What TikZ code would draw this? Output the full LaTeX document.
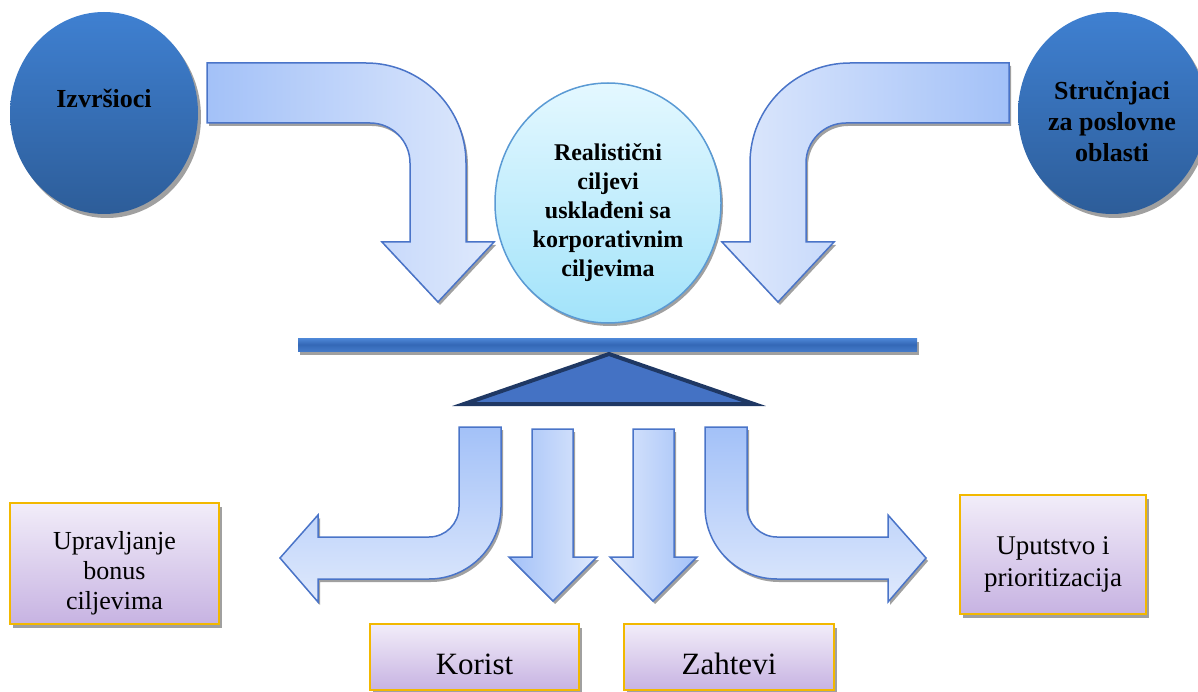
\documentclass[tikz,border=0pt]{standalone}
\usepackage{fontspec}
\setmainfont{Liberation Serif}
\usetikzlibrary{shapes.geometric,shadows}

\definecolor{discDark}{HTML}{2D5D99}
\definecolor{discLight}{HTML}{3F80D1}
\definecolor{goalTop}{HTML}{E4F8FF}
\definecolor{goalBottom}{HTML}{A2E3FA}
\definecolor{goalLine}{HTML}{5A9AD4}
\definecolor{flowDark}{HTML}{A3C1F8}
\definecolor{flowLight}{HTML}{DFE9FC}
\definecolor{flowLine}{HTML}{4A74C8}
\definecolor{beamTop}{HTML}{4E88D8}
\definecolor{beamMid}{HTML}{3468B6}
\definecolor{beamBottom}{HTML}{4379C8}
\definecolor{pivotFill}{HTML}{4472C4}
\definecolor{pivotLine}{HTML}{1F3864}
\definecolor{boxTop}{HTML}{F2EDF9}
\definecolor{boxBottom}{HTML}{C7B3E2}
\definecolor{boxLine}{HTML}{F2B800}
\definecolor{shadowGray}{HTML}{A0A0A0}

\tikzset{
  softshadow/.style={drop shadow={shadow xshift=3pt, shadow yshift=-4pt, fill=shadowGray, opacity=1}},
  thinshadow/.style={drop shadow={shadow xshift=2pt, shadow yshift=-3pt, fill=shadowGray, opacity=1}},
  disc/.style={ellipse, inner sep=0pt, minimum width=188pt, minimum height=202pt,
    top color=discLight, bottom color=discDark, draw=none, softshadow},
  goal/.style={ellipse, inner sep=0pt, minimum width=226pt, minimum height=240pt,
    top color=goalTop, bottom color=goalBottom, draw=goalLine, line width=1.5pt, thinshadow},
  flow/.style={draw=flowLine, line width=1.5pt, line join=miter, thinshadow},
  outcome/.style={rectangle, inner sep=0pt, top color=boxTop, bottom color=boxBottom,
    draw=boxLine, line width=2pt, softshadow},
  boldlabel/.style={font=\bfseries, align=center, inner sep=0pt},
  plainlabel/.style={align=center, inner sep=0pt},
}

\begin{document}
\begin{tikzpicture}[x=1pt, y=-1pt]
\useasboundingbox (0,0) rectangle (1198,692);

% --- sources at the top ---
\node[disc] (exe) at (104,113) {};
\node[boldlabel, font=\bfseries\fontsize{26}{31}\selectfont] (exeT) at (104,98) {Izvršioci};

\node[disc] (exp) at (1112,113) {};
\node[boldlabel, font=\bfseries\fontsize{26}{31}\selectfont] (expT) at (1112,121) {Stručnjaci\\za poslovne\\oblasti};

% --- bent arrows feeding the goal ---
\path[flow, left color=flowDark, right color=flowLight]
  (207,63) -- (366,63) arc[start angle=270, end angle=360, radius=100]
  -- (466,242) -- (494,242) -- (438,302) -- (382,242) -- (410,242)
  -- (410,163) arc[start angle=0, end angle=-90, radius=40]
  -- (207,123) -- cycle;

\path[flow, left color=flowLight, right color=flowDark]
  (1009,63) -- (850,63) arc[start angle=270, end angle=180, radius=100]
  -- (750,242) -- (722,242) -- (778,302) -- (834,242) -- (806,242)
  -- (806,163) arc[start angle=180, end angle=270, radius=40]
  -- (1009,123) -- cycle;

% --- the goal in the middle ---
\node[goal] (goal) at (608,203) {};
\node[boldlabel, font=\bfseries\fontsize{24}{29}\selectfont] (goalT) at (608,213)
  {Realistični\\ciljevi\\usklađeni sa\\korporativnim\\ciljevima};

% --- balance beam and pivot ---
\fill[shadowGray] (300,342) rectangle (919,355);
\shade[top color=beamTop, bottom color=beamBottom, middle color=beamMid] (298,338) rectangle (917,351);
\filldraw[fill=pivotFill, draw=pivotLine, line width=4pt, line join=miter]
  (464,404) -- (609,354) -- (754,404) -- cycle;

% --- outgoing arrows ---
\path[flow, top color=flowDark, bottom color=flowLight]
  (459,427) -- (501,427) -- (501,507) arc[start angle=0, end angle=90, radius=72]
  -- (318,579) -- (318,602) -- (280,558) -- (318,515) -- (318,537)
  -- (429,537) arc[start angle=90, end angle=0, radius=30] -- cycle;

\path[flow, top color=flowDark, bottom color=flowLight]
  (747,427) -- (705,427) -- (705,507) arc[start angle=180, end angle=90, radius=72]
  -- (888,579) -- (888,602) -- (926,558) -- (888,515) -- (888,537)
  -- (777,537) arc[start angle=90, end angle=180, radius=30] -- cycle;

\path[flow, left color=flowDark, right color=flowLight]
  (532,429) -- (573,429) -- (573,557) -- (597,557) -- (553,601)
  -- (509,557) -- (532,557) -- cycle;

\path[flow, left color=flowLight, right color=flowDark]
  (633,429) -- (674,429) -- (674,557) -- (697,557) -- (653,601)
  -- (610,557) -- (633,557) -- cycle;

% --- outcomes ---
\node[outcome, minimum width=209pt, minimum height=121pt] (bonus) at (114.5,563.5) {};
\node[plainlabel, font=\fontsize{26}{30}\selectfont] (bonusT) at (114.5,573) {Upravljanje\\bonus\\ciljevima};

\node[outcome, minimum width=209pt, minimum height=66pt] (benefit) at (474.5,657) {};
\node[plainlabel, font=\fontsize{31}{36}\selectfont] (benefitT) at (474.5,664) {Korist};

\node[outcome, minimum width=210pt, minimum height=66pt] (demand) at (729,657) {};
\node[plainlabel, font=\fontsize{31}{36}\selectfont] (demandT) at (729,664) {Zahtevi};

\node[outcome, minimum width=186pt, minimum height=119pt] (guide) at (1053,554.5) {};
\node[plainlabel, font=\fontsize{27}{32}\selectfont] (guideT) at (1053,564) {Uputstvo i\\prioritizacija};

\end{tikzpicture}
\end{document}
